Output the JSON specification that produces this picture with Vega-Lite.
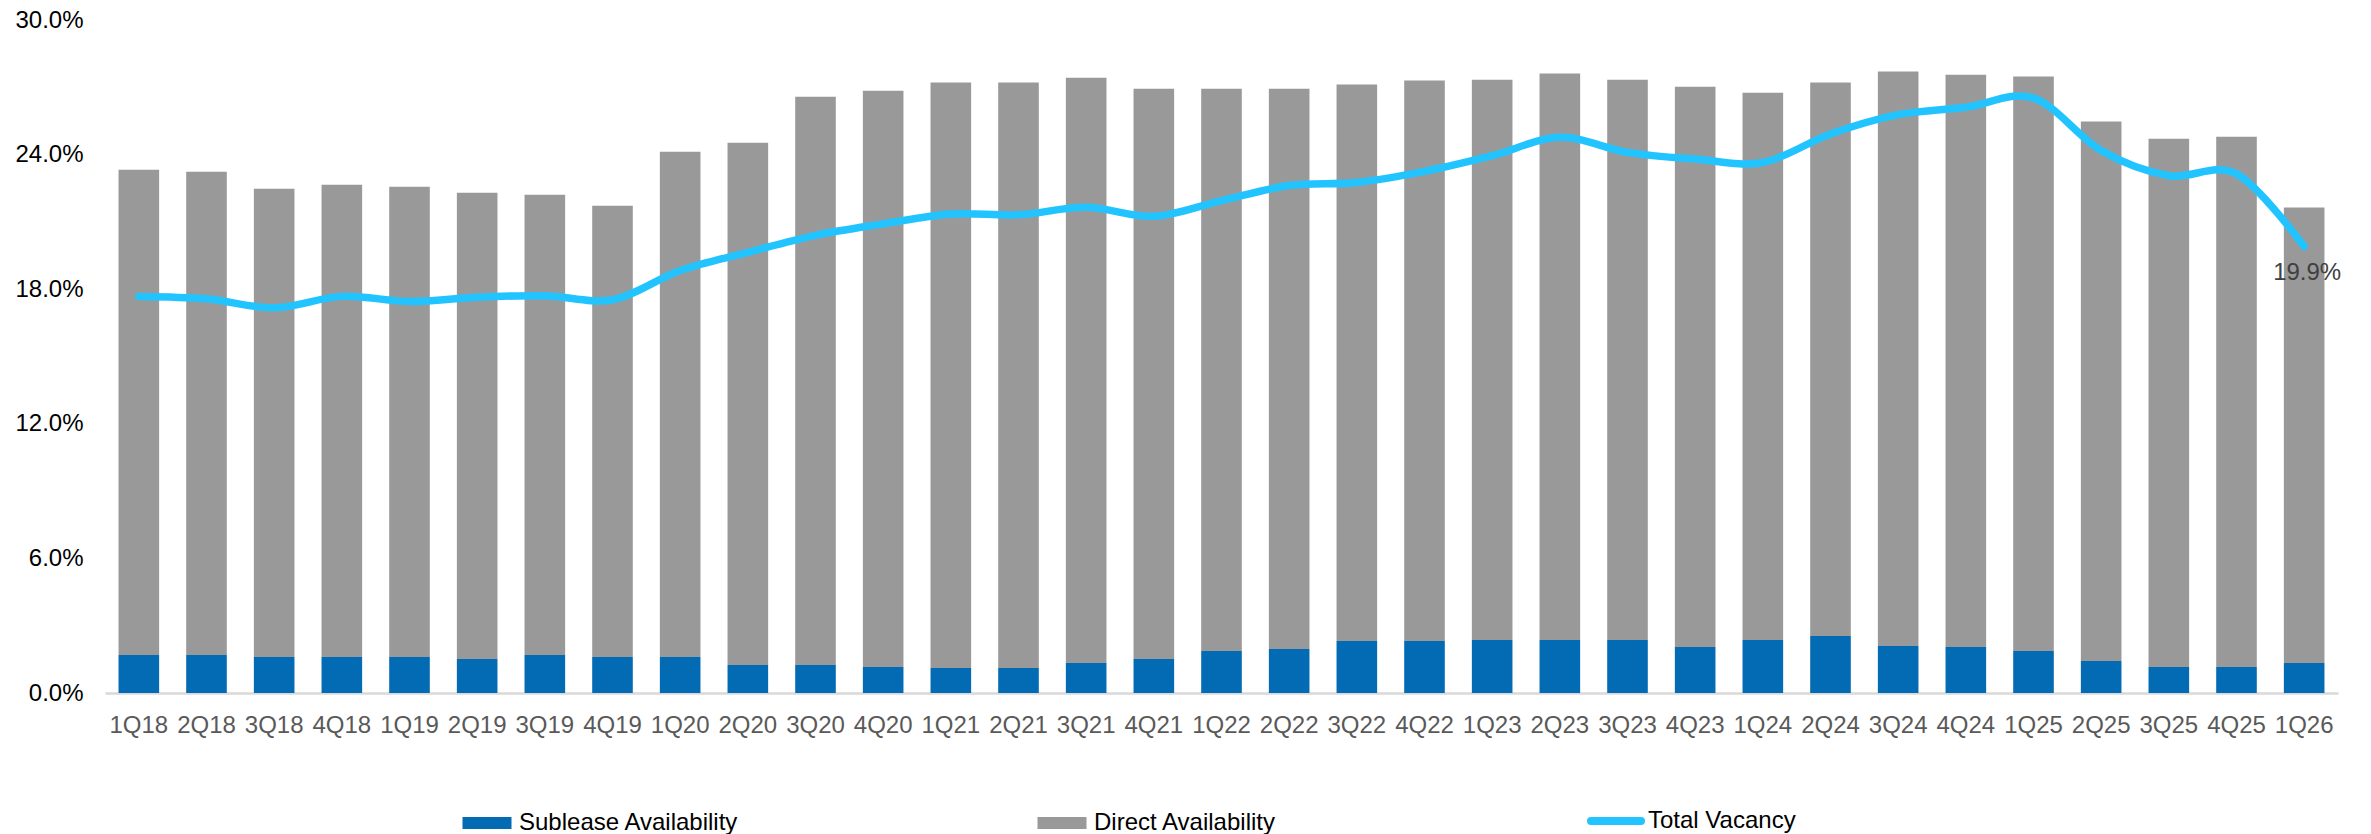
{
  "$schema": "https://vega.github.io/schema/vega-lite/v6.json",
  "width": 2233,
  "height": 673,
  "autosize": {"type": "none"},
  "padding": {"left": 105, "top": 20, "right": 33, "bottom": 141},
  "background": "white",
  "config": {"view": {"stroke": null}, "font": "Liberation Sans"},
  "datasets": {
    "bars": [
      {"quarter": "1Q18", "series": "Sublease Availability", "value": 0.0169}, {"quarter": "1Q18", "series": "Direct Availability", "value": 0.2164},
      {"quarter": "2Q18", "series": "Sublease Availability", "value": 0.0169}, {"quarter": "2Q18", "series": "Direct Availability", "value": 0.2155},
      {"quarter": "3Q18", "series": "Sublease Availability", "value": 0.0160}, {"quarter": "3Q18", "series": "Direct Availability", "value": 0.2088},
      {"quarter": "4Q18", "series": "Sublease Availability", "value": 0.0160}, {"quarter": "4Q18", "series": "Direct Availability", "value": 0.2106},
      {"quarter": "1Q19", "series": "Sublease Availability", "value": 0.0160}, {"quarter": "1Q19", "series": "Direct Availability", "value": 0.2097},
      {"quarter": "2Q19", "series": "Sublease Availability", "value": 0.0152}, {"quarter": "2Q19", "series": "Direct Availability", "value": 0.2078},
      {"quarter": "3Q19", "series": "Sublease Availability", "value": 0.0169}, {"quarter": "3Q19", "series": "Direct Availability", "value": 0.2052},
      {"quarter": "4Q19", "series": "Sublease Availability", "value": 0.0160}, {"quarter": "4Q19", "series": "Direct Availability", "value": 0.2012},
      {"quarter": "1Q20", "series": "Sublease Availability", "value": 0.0160}, {"quarter": "1Q20", "series": "Direct Availability", "value": 0.2253},
      {"quarter": "2Q20", "series": "Sublease Availability", "value": 0.0125}, {"quarter": "2Q20", "series": "Direct Availability", "value": 0.2328},
      {"quarter": "3Q20", "series": "Sublease Availability", "value": 0.0125}, {"quarter": "3Q20", "series": "Direct Availability", "value": 0.2533},
      {"quarter": "4Q20", "series": "Sublease Availability", "value": 0.0116}, {"quarter": "4Q20", "series": "Direct Availability", "value": 0.2569},
      {"quarter": "1Q21", "series": "Sublease Availability", "value": 0.0111}, {"quarter": "1Q21", "series": "Direct Availability", "value": 0.2610},
      {"quarter": "2Q21", "series": "Sublease Availability", "value": 0.0111}, {"quarter": "2Q21", "series": "Direct Availability", "value": 0.2610},
      {"quarter": "3Q21", "series": "Sublease Availability", "value": 0.0134}, {"quarter": "3Q21", "series": "Direct Availability", "value": 0.2609},
      {"quarter": "4Q21", "series": "Sublease Availability", "value": 0.0152}, {"quarter": "4Q21", "series": "Direct Availability", "value": 0.2542},
      {"quarter": "1Q22", "series": "Sublease Availability", "value": 0.0187}, {"quarter": "1Q22", "series": "Direct Availability", "value": 0.2507},
      {"quarter": "2Q22", "series": "Sublease Availability", "value": 0.0196}, {"quarter": "2Q22", "series": "Direct Availability", "value": 0.2498},
      {"quarter": "3Q22", "series": "Sublease Availability", "value": 0.0232}, {"quarter": "3Q22", "series": "Direct Availability", "value": 0.2480},
      {"quarter": "4Q22", "series": "Sublease Availability", "value": 0.0232}, {"quarter": "4Q22", "series": "Direct Availability", "value": 0.2498},
      {"quarter": "1Q23", "series": "Sublease Availability", "value": 0.0236}, {"quarter": "1Q23", "series": "Direct Availability", "value": 0.2498},
      {"quarter": "2Q23", "series": "Sublease Availability", "value": 0.0236}, {"quarter": "2Q23", "series": "Direct Availability", "value": 0.2525},
      {"quarter": "3Q23", "series": "Sublease Availability", "value": 0.0236}, {"quarter": "3Q23", "series": "Direct Availability", "value": 0.2498},
      {"quarter": "4Q23", "series": "Sublease Availability", "value": 0.0205}, {"quarter": "4Q23", "series": "Direct Availability", "value": 0.2498},
      {"quarter": "1Q24", "series": "Sublease Availability", "value": 0.0236}, {"quarter": "1Q24", "series": "Direct Availability", "value": 0.2440},
      {"quarter": "2Q24", "series": "Sublease Availability", "value": 0.0254}, {"quarter": "2Q24", "series": "Direct Availability", "value": 0.2467},
      {"quarter": "3Q24", "series": "Sublease Availability", "value": 0.0209}, {"quarter": "3Q24", "series": "Direct Availability", "value": 0.2561},
      {"quarter": "4Q24", "series": "Sublease Availability", "value": 0.0205}, {"quarter": "4Q24", "series": "Direct Availability", "value": 0.2551},
      {"quarter": "1Q25", "series": "Sublease Availability", "value": 0.0187}, {"quarter": "1Q25", "series": "Direct Availability", "value": 0.2561},
      {"quarter": "2Q25", "series": "Sublease Availability", "value": 0.0143}, {"quarter": "2Q25", "series": "Direct Availability", "value": 0.2404},
      {"quarter": "3Q25", "series": "Sublease Availability", "value": 0.0116}, {"quarter": "3Q25", "series": "Direct Availability", "value": 0.2355},
      {"quarter": "4Q25", "series": "Sublease Availability", "value": 0.0116}, {"quarter": "4Q25", "series": "Direct Availability", "value": 0.2364},
      {"quarter": "1Q26", "series": "Sublease Availability", "value": 0.0134}, {"quarter": "1Q26", "series": "Direct Availability", "value": 0.2030}
    ],
    "vacancy": [
      {"quarter": "1Q18", "vacancy": 0.1768}, {"quarter": "2Q18", "vacancy": 0.1757}, {"quarter": "3Q18", "vacancy": 0.1717},
      {"quarter": "4Q18", "vacancy": 0.1768}, {"quarter": "1Q19", "vacancy": 0.1745}, {"quarter": "2Q19", "vacancy": 0.1764},
      {"quarter": "3Q19", "vacancy": 0.1771}, {"quarter": "4Q19", "vacancy": 0.1753}, {"quarter": "1Q20", "vacancy": 0.1883},
      {"quarter": "2Q20", "vacancy": 0.1964}, {"quarter": "3Q20", "vacancy": 0.2040}, {"quarter": "4Q20", "vacancy": 0.2091},
      {"quarter": "1Q21", "vacancy": 0.2135}, {"quarter": "2Q21", "vacancy": 0.2132}, {"quarter": "3Q21", "vacancy": 0.2165},
      {"quarter": "4Q21", "vacancy": 0.2125}, {"quarter": "1Q22", "vacancy": 0.2195}, {"quarter": "2Q22", "vacancy": 0.2262},
      {"quarter": "3Q22", "vacancy": 0.2276}, {"quarter": "4Q22", "vacancy": 0.2325}, {"quarter": "1Q23", "vacancy": 0.2395},
      {"quarter": "2Q23", "vacancy": 0.2477}, {"quarter": "3Q23", "vacancy": 0.2410}, {"quarter": "4Q23", "vacancy": 0.2380},
      {"quarter": "1Q24", "vacancy": 0.2365}, {"quarter": "2Q24", "vacancy": 0.2492}, {"quarter": "3Q24", "vacancy": 0.2578},
      {"quarter": "4Q24", "vacancy": 0.2611}, {"quarter": "1Q25", "vacancy": 0.2652}, {"quarter": "2Q25", "vacancy": 0.2418},
      {"quarter": "3Q25", "vacancy": 0.2306}, {"quarter": "4Q25", "vacancy": 0.2314}, {"quarter": "1Q26", "vacancy": 0.1990}
    ]
  },
  "layer": [
    {
      "data": {"name": "bars"},
      "mark": {"type": "bar"},
      "encoding": {
        "x": {
          "field": "quarter", "type": "ordinal",
          "scale": {
            "domain": ["1Q18","2Q18","3Q18","4Q18","1Q19","2Q19","3Q19","4Q19","1Q20","2Q20","3Q20","4Q20","1Q21","2Q21","3Q21","4Q21","1Q22","2Q22","3Q22","4Q22","1Q23","2Q23","3Q23","4Q23","1Q24","2Q24","3Q24","4Q24","1Q25","2Q25","3Q25","4Q25","1Q26"],
            "paddingInner": 0.4, "paddingOuter": 0.2
          },
          "axis": {
            "title": null, "labelAngle": 0, "labelFontSize": 24, "labelColor": "#595959",
            "labelFont": "Liberation Sans", "labelPadding": 20, "ticks": false, "tickSize": 0,
            "domain": true, "domainColor": "#D9D9D9", "domainWidth": 2.5, "grid": false
          }
        },
        "y": {
          "field": "value", "type": "quantitative", "stack": "zero",
          "scale": {"domain": [0, 0.3], "nice": false},
          "axis": {
            "title": null, "values": [0, 0.06, 0.12, 0.18, 0.24, 0.3], "format": ".1%",
            "labelFontSize": 24, "labelColor": "#000000", "labelFont": "Liberation Sans",
            "labelPadding": 22, "ticks": false, "tickSize": 0, "domain": false, "grid": false
          }
        },
        "color": {
          "field": "series", "type": "nominal",
          "scale": {
            "domain": ["Sublease Availability", "Direct Availability", "Total Vacancy"],
            "range": ["#036AB4", "#999999", "#22C4FF"]
          },
          "legend": {
            "title": null, "orient": "none", "legendX": 370, "legendY": 789,
            "direction": "horizontal", "padding": 0,
            "labelFontSize": 24, "labelColor": "#000000", "labelFont": "Liberation Sans",
            "labelLimit": 0, "labelOffset": 20, "columnPadding": 298,
            "symbolSize": 2401, "symbolType": "M-1,-0.245H1V0.245H-1Z", "symbolStrokeWidth": 0,
            "encode": {
              "symbols": {
                "update": {
                  "shape": {"signal": "datum.value === 'Total Vacancy' ? 'M-1.02,0H1.02' : 'M-1,-0.245H1V0.245H-1Z'"},
                  "fill": {"signal": "datum.value === 'Total Vacancy' ? 'transparent' : (datum.value === 'Sublease Availability' ? '#036AB4' : '#999999')"},
                  "stroke": {"signal": "datum.value === 'Total Vacancy' ? '#22C4FF' : 'transparent'"},
                  "strokeWidth": {"signal": "datum.value === 'Total Vacancy' ? 8 : 0"},
                  "strokeCap": {"value": "round"},
                  "opacity": {"value": 1},
                  "fillOpacity": {"value": 1},
                  "strokeOpacity": {"value": 1}
                }
              }
            }
          }
        },
        "order": {"field": "series", "sort": "descending"}
      }
    },
    {
      "data": {"name": "vacancy"},
      "mark": {"type": "line", "interpolate": "cardinal", "strokeWidth": 7.5, "strokeCap": "round", "strokeJoin": "round"},
      "encoding": {
        "x": {"field": "quarter", "type": "ordinal"},
        "y": {"field": "vacancy", "type": "quantitative"},
        "color": {"datum": "Total Vacancy", "type": "nominal"}
      }
    },
    {
      "data": {"name": "vacancy"},
      "transform": [{"filter": "datum.quarter === '1Q26'"}],
      "mark": {"type": "text", "fontSize": 24, "font": "Liberation Sans", "color": "#404040", "align": "center", "baseline": "middle", "dy": 26, "dx": 3},
      "encoding": {
        "x": {"field": "quarter", "type": "ordinal"},
        "y": {"field": "vacancy", "type": "quantitative"},
        "text": {"field": "vacancy", "type": "quantitative", "format": ".1%"}
      }
    }
  ]
}
